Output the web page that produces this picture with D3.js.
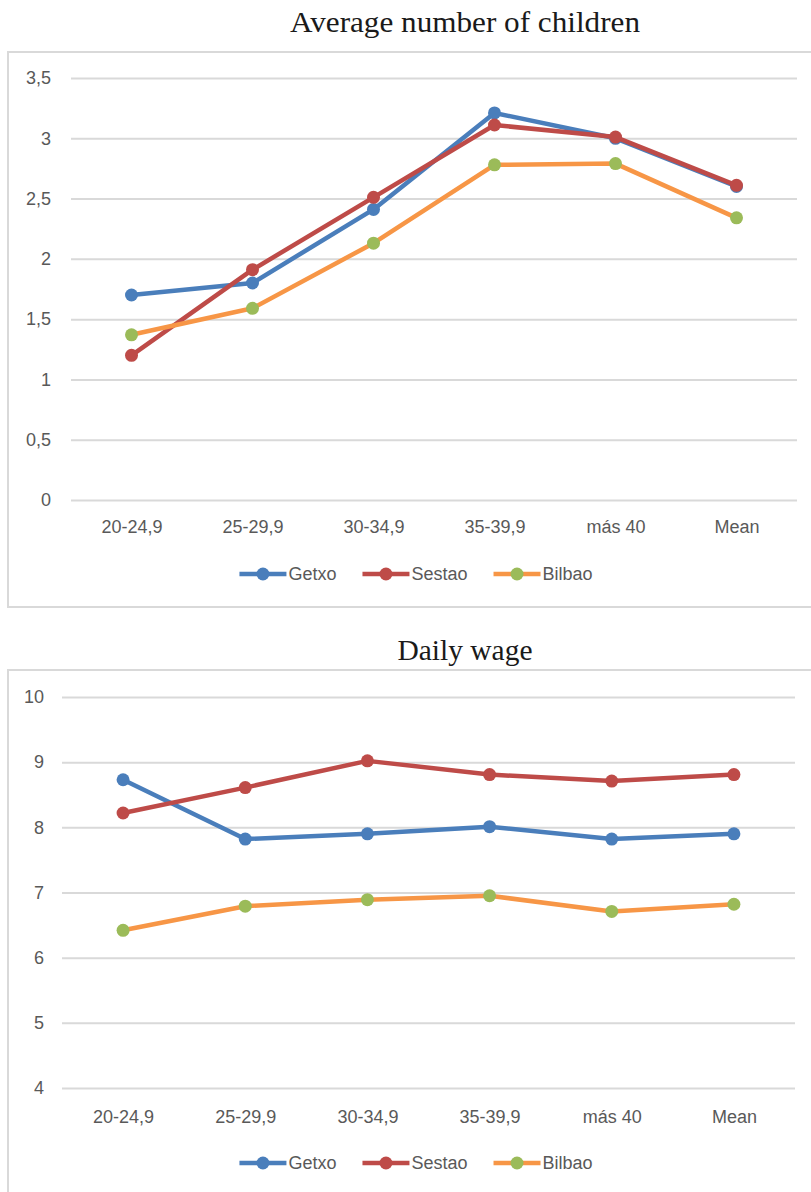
<!DOCTYPE html>
<html>
<head>
<meta charset="utf-8">
<script src="https://cdn.jsdelivr.net/npm/d3@7"></script>
<style>
  html, body { margin: 0; padding: 0; background: #fff; }
  svg { display: block; }
  .title { font-family: "Liberation Serif", "DejaVu Serif", serif; fill: #1a1a1a; }
  .tick text, .legend text { font-family: "Liberation Sans Narrow", "Liberation Sans", sans-serif; fill: #595959; }
</style>
</head>
<body>
<svg id="chart" width="811" height="1192"></svg>
<script>
// Age groups shared by both panels
const categories = ["20-24,9", "25-29,9", "30-34,9", "35-39,9", "más 40", "Mean"];
const seriesNames = ["Getxo", "Sestao", "Bilbao"];

// Average number of children
const childrenGetxo  = [1.70, 1.80, 2.41, 3.21, 3.00, 2.60];
const childrenSestao = [1.20, 1.91, 2.51, 3.11, 3.01, 2.61];
const childrenBilbao = [1.37, 1.59, 2.13, 2.78, 2.79, 2.34];
const childrenTicks  = [0, 0.5, 1, 1.5, 2, 2.5, 3, 3.5];

// Daily wage
const wageGetxo  = [8.73, 7.82, 7.90, 8.01, 7.82, 7.90];
const wageSestao = [8.22, 8.61, 9.02, 8.81, 8.71, 8.81];
const wageBilbao = [6.42, 6.79, 6.89, 6.95, 6.71, 6.82];
const wageTicks  = [4, 5, 6, 7, 8, 9, 10];

const lineColors   = { Getxo: "#4a7ebb", Sestao: "#be4b48", Bilbao: "#f79646" };
const markerColors = { Getxo: "#4a7ebb", Sestao: "#be4b48", Bilbao: "#9bbb59" };

const svg = d3.select("#chart");
const fmt = d => String(d).replace(".", ",");

function drawPanel(cfg) {
  const g = svg.append("g");

  // chart frame (right edge runs past the page)
  g.append("rect")
    .attr("x", cfg.box[0]).attr("y", cfg.box[1])
    .attr("width", cfg.box[2]).attr("height", cfg.box[3])
    .attr("fill", "#fff").attr("stroke", "#d9d9d9").attr("stroke-width", 2);

  g.append("text").attr("class", "title")
    .attr("x", cfg.titleX).attr("y", cfg.titleY)
    .attr("text-anchor", "middle").attr("font-size", cfg.titleSize)
    .attr("textLength", cfg.titleWidth).attr("lengthAdjust", "spacingAndGlyphs")
    .text(cfg.title);

  const x = d3.scalePoint().domain(categories).range(cfg.xRange).padding(0.5);
  const y = d3.scaleLinear().domain(cfg.yDomain).range(cfg.yRange);

  // horizontal gridlines + value labels
  const yAxis = d3.axisLeft(y).tickValues(cfg.ticks).tickFormat(fmt)
    .tickSize(-(cfg.xRange[1] - cfg.xRange[0])).tickPadding(cfg.labelGap);
  const ya = g.append("g").attr("transform", `translate(${cfg.xRange[0]},0)`).call(yAxis);
  ya.select(".domain").remove();
  ya.selectAll(".tick line").attr("stroke", "#d9d9d9").attr("stroke-width", 2);
  ya.selectAll(".tick text").attr("font-size", 18);

  // category labels
  const xAxis = d3.axisBottom(x).tickSize(0).tickPadding(0);
  const xa = g.append("g").attr("transform", `translate(0,${cfg.xLabelY})`).call(xAxis);
  xa.select(".domain").remove();
  xa.selectAll(".tick text").attr("font-size", 18).attr("dy", "0");

  const line = d3.line().x((d, i) => x(categories[i])).y(d => y(d));

  cfg.series.forEach((vals, si) => {
    const name = seriesNames[si];
    g.append("path").datum(vals)
      .attr("d", line).attr("fill", "none")
      .attr("stroke", lineColors[name]).attr("stroke-width", 4.5)
      .attr("stroke-linejoin", "round");
    g.selectAll(null).data(vals).enter().append("circle")
      .attr("cx", (d, i) => x(categories[i])).attr("cy", d => y(d))
      .attr("r", 6.5).attr("fill", markerColors[name]);
  });

  // legend, centred under the plot
  const lg = g.append("g").attr("class", "legend");
  let cx = 0;
  seriesNames.forEach(name => {
    const it = lg.append("g").attr("transform", `translate(${cx},0)`);
    it.append("line").attr("x1", 0).attr("x2", 47).attr("y1", 0).attr("y2", 0)
      .attr("stroke", lineColors[name]).attr("stroke-width", 4.5);
    it.append("circle").attr("cx", 23.5).attr("cy", 0).attr("r", 6.5).attr("fill", markerColors[name]);
    const t = it.append("text").attr("x", 49).attr("y", 0).attr("dy", "0.35em")
      .attr("font-size", 18).text(name);
    cx += 49 + t.node().getComputedTextLength() + 26;
  });
  const total = cx - 26;
  lg.attr("transform", `translate(${cfg.legendCX - total / 2},${cfg.legendY})`);
}

drawPanel({
  title: "Average number of children", titleX: 465, titleY: 32, titleSize: 30, titleWidth: 350,
  box: [8, 52, 830, 555],
  xRange: [71, 797], yDomain: [0, 3.5], yRange: [500, 78],
  ticks: childrenTicks, labelGap: 20, xLabelY: 533,
  series: [childrenGetxo, childrenSestao, childrenBilbao],
  legendCX: 416, legendY: 574
});

drawPanel({
  title: "Daily wage", titleX: 465, titleY: 660, titleSize: 30, titleWidth: 135,
  box: [8, 670, 830, 560],
  xRange: [62, 795], yDomain: [4, 10], yRange: [1088, 697],
  ticks: wageTicks, labelGap: 18, xLabelY: 1123,
  series: [wageGetxo, wageSestao, wageBilbao],
  legendCX: 416, legendY: 1163
});
</script>
</body>
</html>
